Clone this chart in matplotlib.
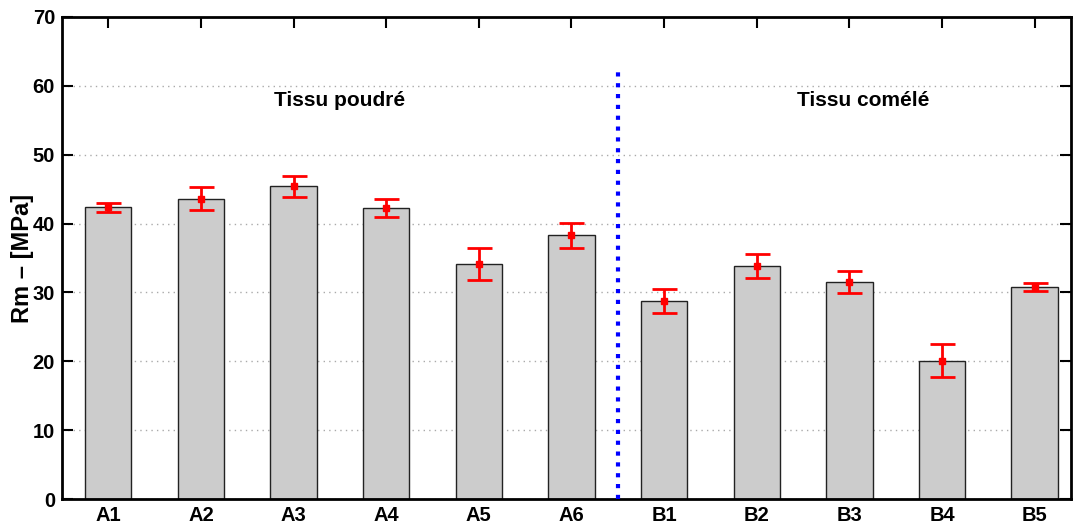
import numpy as np
import matplotlib.pyplot as plt

labels = ['A1', 'A2', 'A3', 'A4', 'A5', 'A6', 'B1', 'B2', 'B3', 'B4', 'B5']
rm_mean = [42.4, 43.6, 45.4, 42.3, 34.1, 38.3, 28.7, 33.9, 31.5, 20.1, 30.8]
rm_err = [0.65, 1.65, 1.5, 1.3, 2.3, 1.8, 1.75, 1.75, 1.6, 2.4, 0.55]
group_names = ['Tissu poudré', 'Tissu comélé']

plt.rcParams['font.family'] = ['Liberation Sans', 'DejaVu Sans']
plt.rcParams['font.weight'] = 'bold'

fig = plt.figure(figsize=(10.74, 5.26), dpi=100)
ax = fig.add_axes([0.0577, 0.0513, 0.9393, 0.9164])

x = np.arange(1, len(labels) + 1)
ax.bar(x, rm_mean, width=0.5, color='#cccccc', edgecolor='#222222', linewidth=1.0, zorder=2)
ax.errorbar(x, rm_mean, yerr=rm_err, fmt='s', color='red', ms=4, elinewidth=2,
            capsize=9, capthick=2, zorder=3)

# separation between the two fabric groups
ax.plot([6.5, 6.5], [0, 62.3], color='blue', linestyle=(0, (1, 1.6)), linewidth=3, zorder=4)

ax.text(3.5, 57.9, group_names[0], ha='center', va='center', fontsize=15, fontweight='bold')
ax.text(9.15, 57.9, group_names[1], ha='center', va='center', fontsize=15, fontweight='bold')

ax.set_xlim(0.5, 11.39)
ax.set_ylim(0, 70)
ax.set_yticks(np.arange(0, 71, 10))
ax.set_xticks(x)
ax.set_xticklabels(labels)
ax.yaxis.grid(True, linestyle=(0, (1, 3)), color='#aaaaaa', linewidth=1, zorder=0)
ax.set_axisbelow(True)
ax.tick_params(direction='in', length=8, width=1.5, top=True, right=True, labelsize=14.5, pad=5)
for s in ax.spines.values():
    s.set_linewidth(2)
ax.set_ylabel('Rm – [MPa]', fontsize=17, fontweight='bold', va='center')
ax.yaxis.set_label_coords(-0.039, 0.5)

fig.savefig('out.png', dpi=100)
